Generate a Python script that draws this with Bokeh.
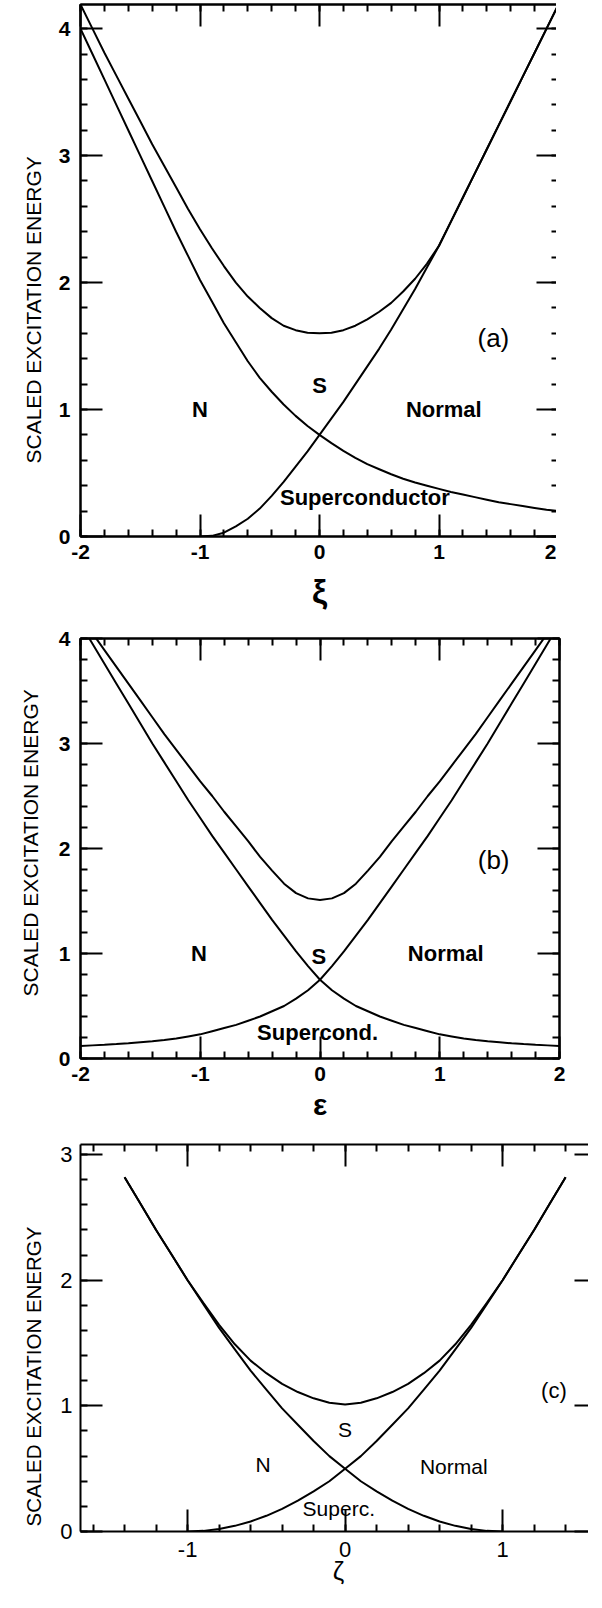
import math
from bokeh.plotting import figure
from bokeh.models import Range1d, LinearAxis, FixedTicker, Label, Title
from bokeh.layouts import column
from bokeh.embed import file_html
from bokeh.resources import INLINE

# ---------------- data ----------------
# panel (a): xi
a_x = [-2.0, -1.9, -1.8, -1.7, -1.6, -1.5, -1.4, -1.3, -1.2, -1.1, -1.0,
       -0.9, -0.8, -0.7, -0.6, -0.5, -0.4, -0.3, -0.2, -0.1, 0.0,
       0.1, 0.2, 0.3, 0.4, 0.5, 0.6, 0.7, 0.8, 0.9, 1.0,
       1.1, 1.2, 1.3, 1.4, 1.5, 1.6, 1.7, 1.8, 1.9, 2.0]
a_normal_down = [4.00, 3.80, 3.60, 3.40, 3.20, 3.00, 2.80, 2.60, 2.40, 2.21, 2.02,
                 1.85, 1.68, 1.53, 1.38, 1.25, 1.14, 1.04, 0.95, 0.87, 0.80,
                 0.735, 0.675, 0.62, 0.57, 0.53, 0.49, 0.455, 0.425, 0.40, 0.375,
                 0.35, 0.33, 0.31, 0.29, 0.27, 0.255, 0.24, 0.225, 0.21, 0.20]
a_super = [4.19, 4.00, 3.81, 3.63, 3.45, 3.27, 3.09, 2.92, 2.75, 2.58, 2.42,
           2.27, 2.13, 2.00, 1.89, 1.80, 1.72, 1.66, 1.625, 1.605, 1.60,
           1.605, 1.625, 1.66, 1.71, 1.77, 1.84, 1.93, 2.03, 2.15, 2.29,
           2.48, 2.67, 2.86, 3.05, 3.24, 3.43, 3.62, 3.81, 4.00, 4.19]
a_up_x = [-1.0, -0.9, -0.8, -0.7, -0.6, -0.5, -0.4, -0.3, -0.2, -0.1, 0.0,
          0.1, 0.2, 0.3, 0.4, 0.5, 0.6, 0.7, 0.8, 0.9, 1.0,
          1.1, 1.2, 1.3, 1.4, 1.5, 1.6, 1.7, 1.8, 1.9, 2.0]
a_normal_up = [0.0, 0.005, 0.03, 0.08, 0.14, 0.22, 0.32, 0.43, 0.55, 0.67, 0.80,
               0.93, 1.06, 1.20, 1.34, 1.48, 1.63, 1.79, 1.95, 2.12, 2.29,
               2.48, 2.67, 2.86, 3.05, 3.24, 3.43, 3.62, 3.81, 4.00, 4.19]

# panel (b): epsilon
b_x = [-2.0, -1.9, -1.8, -1.7, -1.6, -1.5, -1.4, -1.3, -1.2, -1.1, -1.0,
       -0.9, -0.8, -0.7, -0.6, -0.5, -0.4, -0.3, -0.2, -0.1, 0.0,
       0.1, 0.2, 0.3, 0.4, 0.5, 0.6, 0.7, 0.8, 0.9, 1.0,
       1.1, 1.2, 1.3, 1.4, 1.5, 1.6, 1.7, 1.8, 1.9, 2.0]
b_normal_down = [4.14, 3.95, 3.76, 3.57, 3.38, 3.19, 3.00, 2.82, 2.64, 2.46, 2.29,
                 2.12, 1.96, 1.80, 1.64, 1.48, 1.32, 1.17, 1.02, 0.88, 0.75,
                 0.65, 0.57, 0.50, 0.45, 0.40, 0.36, 0.32, 0.29, 0.26, 0.23,
                 0.21, 0.19, 0.177, 0.165, 0.155, 0.145, 0.137, 0.13, 0.125, 0.12]
b_normal_up = [0.12, 0.125, 0.13, 0.137, 0.145, 0.155, 0.165, 0.177, 0.19, 0.21, 0.23,
               0.26, 0.29, 0.32, 0.36, 0.40, 0.45, 0.50, 0.57, 0.65, 0.75,
               0.88, 1.02, 1.17, 1.32, 1.48, 1.64, 1.80, 1.96, 2.12, 2.29,
               2.46, 2.64, 2.82, 3.00, 3.19, 3.38, 3.57, 3.76, 3.95, 4.14]
b_super = [4.22, 4.05, 3.89, 3.73, 3.57, 3.41, 3.25, 3.09, 2.94, 2.79, 2.64,
           2.50, 2.35, 2.21, 2.07, 1.92, 1.79, 1.665, 1.575, 1.525, 1.51,
           1.525, 1.575, 1.665, 1.79, 1.92, 2.07, 2.21, 2.35, 2.50, 2.64,
           2.79, 2.94, 3.09, 3.25, 3.41, 3.57, 3.73, 3.89, 4.05, 4.22]

# panel (c): zeta
c_down_x = [-1.4, -1.3, -1.2, -1.1, -1.0, -0.9, -0.8, -0.7, -0.6, -0.5, -0.4, -0.3,
            -0.2, -0.1, 0.0, 0.1, 0.2, 0.3, 0.4, 0.5, 0.6, 0.7, 0.8, 0.9, 1.0]
c_normal_down = [2.82, 2.61, 2.40, 2.20, 2.00, 1.81, 1.62, 1.45, 1.28, 1.13, 0.98, 0.85,
                 0.72, 0.60, 0.50, 0.40, 0.32, 0.245, 0.18, 0.125, 0.08, 0.045, 0.02, 0.005, 0.0]
c_up_x = [-1.0, -0.9, -0.8, -0.7, -0.6, -0.5, -0.4, -0.3, -0.2, -0.1, 0.0, 0.1,
          0.2, 0.3, 0.4, 0.5, 0.6, 0.7, 0.8, 0.9, 1.0, 1.1, 1.2, 1.3, 1.4]
c_normal_up = [0.0, 0.005, 0.02, 0.045, 0.08, 0.125, 0.18, 0.245, 0.32, 0.40, 0.50, 0.60,
               0.72, 0.85, 0.98, 1.13, 1.28, 1.45, 1.62, 1.81, 2.00, 2.20, 2.40, 2.61, 2.82]
c_s_x = [-1.4, -1.3, -1.2, -1.1, -1.0, -0.9, -0.8, -0.7, -0.6, -0.5, -0.4, -0.3, -0.2, -0.1,
         0.0, 0.1, 0.2, 0.3, 0.4, 0.5, 0.6, 0.7, 0.8, 0.9, 1.0, 1.1, 1.2, 1.3, 1.4]
c_super = [2.82, 2.61, 2.40, 2.20, 2.00, 1.82, 1.645, 1.49, 1.36, 1.26, 1.175, 1.11, 1.06, 1.025,
           1.01, 1.025, 1.06, 1.11, 1.175, 1.26, 1.36, 1.49, 1.645, 1.82, 2.00, 2.20, 2.40, 2.61, 2.82]

# tick labels
ab_x_ticks = [-2, -1, 0, 1, 2]
ab_x_labels = ["-2", "-1", "0", "1", "2"]
a_y_ticks = [0, 1, 2, 3, 4]
a_y_labels = ["0", "1", "2", "3", "4"]
b_y_ticks = [0, 1, 2, 3, 4]
b_y_labels = ["0", "1", "2", "3", "4"]
c_x_ticks = [-1, 0, 1]
c_x_labels = ["-1", "0", "1"]
c_y_ticks = [0, 1, 2, 3]
c_y_labels = ["0", "1", "2", "3"]

Y_TITLE = "SCALED EXCITATION ENERGY"
FONT = "Liberation Sans"


def minor_list(lo, hi, step):
    n = int(round((hi - lo) / step))
    return [round(lo + i * step, 6) for i in range(n + 1)]


def style_axis(ax, ticks, labels, minor, show, size, weight, standoff):
    ax.ticker = FixedTicker(ticks=ticks, minor_ticks=minor)
    ax.major_tick_in = 22
    ax.major_tick_out = 0
    ax.minor_tick_in = 7
    ax.minor_tick_out = 0
    ax.axis_line_width = 2
    ax.axis_line_color = "black"
    ax.major_tick_line_width = 2
    ax.minor_tick_line_width = 2
    ax.major_tick_line_color = "black"
    ax.minor_tick_line_color = "black"
    if show:
        ax.major_label_overrides = {float(t): s for t, s in zip(ticks, labels)}
        ax.major_label_text_font = FONT
        ax.major_label_text_font_size = size
        ax.major_label_text_font_style = weight
        ax.major_label_text_color = "black"
        ax.major_label_standoff = standoff
    else:
        ax.major_label_overrides = {float(t): "" for t in ticks}
        ax.major_label_text_font_size = "0px"
        ax.major_label_standoff = 0


def make_panel(xr, yr, fw, fh, left, right, top, bottom, xt, xl, yt, yl, xminor, yminor,
               tick_size, tick_weight, xstand, ystand, right_line=True):
    p = figure(frame_width=fw, frame_height=fh, x_range=Range1d(*xr), y_range=Range1d(*yr),
               output_backend="svg", toolbar_location=None,
               min_border_left=left, min_border_right=right,
               min_border_top=top, min_border_bottom=bottom,
               background_fill_color="white", border_fill_color="white")
    p.grid.visible = False
    if right_line:
        p.outline_line_color = "black"
        p.outline_line_width = 2
    else:
        p.outline_line_color = None
    bottom_ax = p.below[0]
    left_ax = p.left[0]
    style_axis(bottom_ax, xt, xl, xminor, True, tick_size, tick_weight, xstand)
    style_axis(left_ax, yt, yl, yminor, True, tick_size, tick_weight, ystand)
    top_ax = LinearAxis()
    style_axis(top_ax, xt, xl, xminor, False, tick_size, tick_weight, 0)
    p.add_layout(top_ax, "above")
    right_ax = LinearAxis()
    style_axis(right_ax, yt, yl, yminor, False, tick_size, tick_weight, 0)
    if not right_line:
        right_ax.axis_line_alpha = 0
    p.add_layout(right_ax, "right")
    return p, bottom_ax, left_ax


def set_xtitle(ax, text, size, weight, standoff):
    ax.axis_label = text
    ax.axis_label_text_font = FONT
    ax.axis_label_text_font_size = size
    ax.axis_label_text_font_style = weight
    ax.axis_label_text_color = "black"
    ax.axis_label_standoff = standoff


def add_ytitle(p, size, standoff, offset):
    # text starts 'offset' px above the bottom of the frame
    p.add_layout(Title(text=Y_TITLE, align="left", vertical_align="top",
                       text_font=FONT, text_font_size=size,
                       text_font_style="normal", text_color="black",
                       standoff=standoff, offset=offset), "left")


def add_text(p, x, y, text, size, weight="bold"):
    p.add_layout(Label(x=x, y=y, text=text, text_font=FONT, text_font_size=size,
                       text_font_style=weight, text_align="center",
                       text_baseline="middle", text_color="black"))


LW = 2

# ---------------- panel (a) ----------------
pa, a_bx, a_ly = make_panel((-2, 2), (0, 4.19), 478, 532, 66, 10, 4, 80,
                            ab_x_ticks, ab_x_labels, a_y_ticks, a_y_labels,
                            minor_list(-2, 2, 0.2), minor_list(0, 4.2, 0.2), "21px", "bold", 8, 10)
pa.line(a_x, a_normal_down, line_width=LW, color="black")
pa.line(a_x, a_super, line_width=LW, color="black")
pa.line(a_up_x, a_normal_up, line_width=LW, color="black")
set_xtitle(a_bx, "ξ", "34px", "bold", 10)
add_ytitle(pa, "21px", 18, 73)
add_text(pa, 1.455, 1.56, "(a)", "26px", "normal")
add_text(pa, 0.0, 1.19, "S", "22px")
add_text(pa, -1.0, 1.0, "N", "22px")
add_text(pa, 1.04, 1.0, "Normal", "22px")
add_text(pa, 0.38, 0.31, "Superconductor", "22px")

# ---------------- panel (b) ----------------
pb, b_bx, b_ly = make_panel((-2, 2), (0, 4), 479, 420, 80, 10, 22, 70,
                            ab_x_ticks, ab_x_labels, b_y_ticks, b_y_labels,
                            minor_list(-2, 2, 0.2), minor_list(0, 4, 0.2), "21px", "bold", 8, 10)
pb.line(b_x, b_normal_down, line_width=LW, color="black")
pb.line(b_x, b_normal_up, line_width=LW, color="black")
pb.line(b_x, b_super, line_width=LW, color="black")
set_xtitle(b_bx, "ε", "30px", "bold", 4)
add_ytitle(pb, "21px", 24, 62)
add_text(pb, 1.45, 1.89, "(b)", "26px", "normal")
add_text(pb, -0.01, 0.97, "S", "22px")
add_text(pb, -1.01, 1.0, "N", "22px")
add_text(pb, 1.05, 1.0, "Normal", "22px")
add_text(pb, -0.02, 0.25, "Supercond.", "22px")

# ---------------- panel (c) ----------------
c_x0 = -1.68
c_x1 = -1.68 + 516 / 157.5
pc, c_bx, c_ly = make_panel((c_x0, c_x1), (0, 3.08), 516, 387, 68, 2, 16, 61,
                            c_x_ticks, c_x_labels, c_y_ticks, c_y_labels,
                            minor_list(-1.6, 1.6, 0.2), minor_list(0, 3.0, 0.2), "22px", "normal", 10, 8,
                            right_line=False)
pc.line(c_down_x, c_normal_down, line_width=LW, color="black")
pc.line(c_up_x, c_normal_up, line_width=LW, color="black")
pc.line(c_s_x, c_super, line_width=LW, color="black")
set_xtitle(c_bx, "ζ", "26px", "normal", -4)
add_ytitle(pc, "20.5px", 22, 5)
add_text(pc, 1.326, 1.12, "(c)", "22px", "normal")
add_text(pc, 0.0, 0.81, "S", "21px", "normal")
add_text(pc, -0.52, 0.53, "N", "21px", "normal")
add_text(pc, 0.69, 0.52, "Normal", "21px", "normal")
add_text(pc, -0.04, 0.18, "Superc.", "21px", "normal")

layout = column(pa, pb, pc, spacing=0)
open("out.html", "w").write(file_html(layout, INLINE))
